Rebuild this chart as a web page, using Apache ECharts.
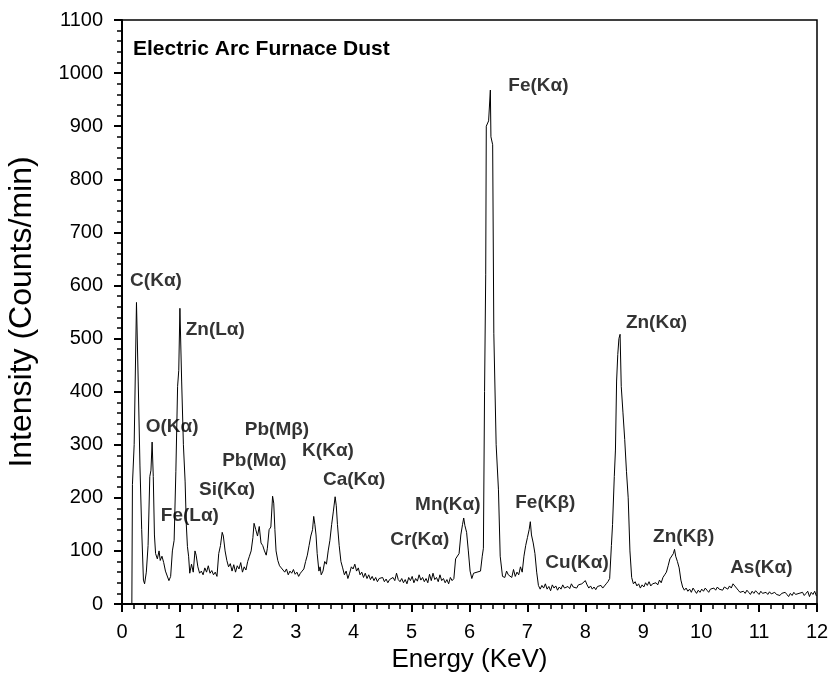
<!DOCTYPE html>
<html>
<head>
<meta charset="utf-8">
<script src="https://cdn.jsdelivr.net/npm/echarts@6/dist/echarts.min.js"></script>
<style>
  html, body { margin: 0; padding: 0; background: #fff; }
  #edschart { width: 830px; height: 694px; }
</style>
</head>
<body>
<div id="edschart"></div>
<script>
// EDS spectrum, [energy keV, counts/min]
var lowSpectrum = [
  [0,0],[0.17,0],[0.18,225],[0.21,300],[0.25,568],[0.28,420],[0.31,260],[0.34,140],[0.37,45],[0.39,38],
  [0.42,60],[0.45,110],[0.48,240],[0.50,252],[0.52,305],[0.54,240],[0.56,130],[0.58,95],[0.61,85],[0.64,100],
  [0.66,82],[0.69,90],[0.72,78],[0.75,62],[0.78,60],[0.81,44],[0.84,52],[0.87,100],[0.90,120],[0.93,250],
  [0.96,410],[0.98,440],[1.00,557],[1.03,420],[1.06,300],[1.09,230],[1.11,150],[1.13,108],[1.15,90],[1.17,58],
  [1.20,75],[1.23,60],[1.26,100],[1.28,92],[1.31,70],[1.34,58],[1.37,62],[1.40,55],[1.43,68],[1.46,60],
  [1.49,72],[1.52,58],[1.55,63],[1.58,55],[1.61,60],[1.64,52],[1.67,95],[1.70,110],[1.73,135],[1.75,128],
  [1.78,100],[1.81,82],[1.84,70],[1.87,76],[1.90,62],[1.93,74],[1.96,60],[1.99,72]
];
var midSpectrum = [
  [2.02,66],[2.05,78],[2.08,60],[2.11,70],[2.14,64],[2.17,80],[2.20,90],[2.23,100],[2.26,125],[2.28,152],
  [2.31,140],[2.34,128],[2.37,146],[2.40,115],[2.43,110],[2.46,100],[2.49,92],[2.51,105],[2.54,140],[2.57,145],
  [2.60,203],[2.62,190],[2.64,140],[2.66,100],[2.69,82],[2.72,72],[2.75,68],[2.78,64],[2.81,60],[2.84,66],
  [2.87,55],[2.90,62],[2.93,58],[2.96,65],[2.99,56],[3.02,60],[3.05,52],[3.08,58],[3.11,62],[3.14,66],
  [3.17,80],[3.20,92],[3.23,110],[3.26,128],[3.29,140],[3.31,165],[3.33,150],[3.35,130],[3.37,95],[3.40,62],
  [3.42,70],[3.44,55],[3.47,62],[3.50,80],[3.53,75],[3.56,100],[3.59,120],[3.62,150],[3.65,175],[3.68,202],
  [3.70,185],[3.72,150],[3.75,110],[3.78,80],[3.81,68],[3.84,55],[3.87,62],[3.90,48],[3.93,58],[3.96,70],
  [3.99,66],[4.02,75],[4.05,62],[4.08,68],[4.11,55],[4.14,60],[4.17,50],[4.20,58],[4.23,48],[4.26,55],
  [4.29,46],[4.32,52],[4.35,44],[4.38,50],[4.41,42],[4.44,48],[4.47,45],[4.50,50],[4.53,42],[4.56,47],
  [4.59,40],[4.62,46],[4.65,43],[4.68,50],[4.71,44],[4.74,58],[4.77,46],[4.80,42],[4.83,48],[4.86,40],
  [4.89,46],[4.92,38],[4.95,50],[4.98,44],[5.01,52],[5.04,40],[5.07,48],[5.10,43],[5.13,55],[5.16,45],
  [5.19,50],[5.22,42],[5.25,48],[5.28,40],[5.31,56],[5.34,44],[5.37,58],[5.40,46],[5.43,50],[5.46,42],
  [5.49,55],[5.52,44],[5.55,48],[5.58,40],[5.61,46],[5.64,38],[5.67,50],[5.70,44],[5.73,48],[5.76,85],
  [5.79,88],[5.82,95],[5.85,130],[5.88,150],[5.90,162],[5.92,148],[5.95,135],[5.98,100],[6.01,62],[6.04,48],
  [6.07,58],[6.10,55],[6.13,60],[6.16,58],[6.19,62],[6.22,90],[6.24,105],[6.26,400],[6.28,620],[6.29,900],
  [6.33,910],[6.36,968],[6.37,880],[6.40,865],[6.42,510],[6.46,300],[6.50,215],[6.53,90],[6.57,52],
  [6.61,50],[6.64,62],[6.67,55],[6.70,58],[6.73,50],[6.76,65],[6.79,52],[6.82,60],[6.85,55],
  [6.88,70],[6.91,60],[6.94,90],[6.97,110],[7.00,125],[7.03,140],[7.05,155],[7.07,130],[7.10,115],[7.13,95],
  [7.16,60],[7.19,35],[7.22,28],[7.25,35],[7.28,30],[7.31,38],[7.34,28],[7.37,33],[7.40,25],[7.43,36],
  [7.46,30],[7.49,34],[7.52,26],[7.55,32],[7.58,28],[7.61,36],[7.64,30],[7.67,27],[7.70,33],[7.73,29],
  [7.76,38],[7.79,32],[7.82,35],[7.85,30],[7.88,36],[7.91,33],[7.94,38],[7.97,35]
];
var highSpectrum = [
  [8.00,44],[8.03,36],[8.06,30],[8.09,34],[8.12,28],[8.15,32],[8.18,27],[8.21,33],[8.24,30],[8.27,35],
  [8.30,30],[8.33,34],[8.36,38],[8.39,42],[8.42,48],[8.45,110],[8.47,150],[8.50,240],[8.52,290],[8.54,420],
  [8.56,470],[8.58,500],[8.60,508],[8.62,410],[8.65,360],[8.68,310],[8.71,250],[8.74,200],[8.77,100],[8.80,50],
  [8.83,38],[8.86,42],[8.89,34],[8.92,38],[8.95,30],[8.98,36],[9.01,32],[9.04,40],[9.07,35],[9.10,42],
  [9.13,34],[9.16,38],[9.19,35],[9.22,40],[9.25,36],[9.28,45],[9.31,40],[9.34,50],[9.37,55],[9.40,60],
  [9.43,72],[9.46,85],[9.49,88],[9.52,95],[9.54,103],[9.56,90],[9.59,80],[9.62,68],[9.65,45],[9.68,32],
  [9.71,26],[9.74,30],[9.77,24],[9.80,28],[9.83,22],[9.86,30],[9.89,25],[9.92,20],[9.95,26],[9.98,22],
  [10.01,28],[10.04,24],[10.07,30],[10.10,26],[10.13,22],[10.16,28],[10.19,25],[10.22,30],[10.25,26],[10.28,32],
  [10.31,28],[10.34,30],[10.37,26],[10.40,32],[10.43,30],[10.46,28],[10.49,34],[10.52,30],[10.55,38],[10.58,34],
  [10.61,30],[10.64,26],[10.67,22],[10.70,20],[10.73,24],[10.76,20],[10.79,26],[10.82,22],[10.85,18],[10.88,24],
  [10.91,20],[10.94,25],[10.97,22],[11.00,18],[11.03,24],[11.06,20],[11.09,17],[11.12,22],[11.15,18],[11.18,23],
  [11.21,19],[11.24,16],[11.27,22],[11.30,18],[11.33,21],[11.36,16],[11.39,20],[11.42,17],[11.45,22],[11.48,18],
  [11.51,14],[11.54,20],[11.57,16],[11.60,22],[11.63,18],[11.66,15],[11.69,20],[11.72,17],[11.75,22],[11.78,16],
  [11.81,20],[11.84,24],[11.87,14],[11.90,22],[11.93,18],[11.96,24],[11.99,15]
];
var spectrum = lowSpectrum.concat(midSpectrum, highSpectrum);

// peak names and where their text sits (left edge energy, middle height)
var peakNames = ['C(Kα)','O(Kα)','Fe(Lα)','Zn(Lα)','Si(Kα)','Pb(Mα)','Pb(Mβ)','K(Kα)','Ca(Kα)',
  'Cr(Kα)','Mn(Kα)','Fe(Kα)','Fe(Kβ)','Cu(Kα)','Zn(Kα)','Zn(Kβ)','As(Kα)'];
var peakLabelE = [0.14,0.41,0.67,1.10,1.33,1.73,2.12,3.11,3.47,4.63,5.06,6.67,6.79,7.31,8.70,9.17,10.50];
var peakLabelI = [608,333,166,516,215,269,328,288,234,121,186,977,190,77,529,126,68];

var labelData = [];
for (var i = 0; i < peakNames.length; i++) {
    labelData.push({name: peakNames[i], value: [peakLabelE[i], peakLabelI[i]]});
}

var edschart = echarts.init(document.getElementById('edschart'));
var axisFont = {color: '#000', fontFamily: 'Liberation Sans', fontSize: 20,
    formatter: function (v) { return String(v); }};

option = {
    animation: false,
    backgroundColor: '#fff',
    title: {
        text: 'Electric Arc Furnace Dust',
        left: 128,
        top: 34,
        textStyle: {fontFamily: 'Liberation Sans', fontWeight: 'bold', fontSize: 21, color: '#000'}
    },
    grid: {
        left: 122, right: 13, top: 20, bottom: 90,
        outerBoundsMode: 'none',
        show: true, borderColor: '#000', borderWidth: 1.5
    },
    xAxis: {
        type: 'value',
        min: 0, max: 12, interval: 1,
        name: 'Energy (KeV)',
        nameLocation: 'middle',
        nameGap: 41,
        nameTextStyle: {color: '#000', fontFamily: 'Liberation Sans', fontSize: 26},
        axisLine: {lineStyle: {color: '#000', width: 2}},
        axisTick: {inside: false, length: 8, lineStyle: {color: '#000', width: 2}},
        minorTick: {show: true, splitNumber: 5, length: 5, lineStyle: {color: '#000', width: 1.5}},
        splitLine: {show: false},
        axisLabel: Object.assign({margin: 18}, axisFont)
    },
    yAxis: {
        type: 'value',
        min: 0, max: 1100, interval: 100,
        name: 'Intensity (Counts/min)',
        nameLocation: 'middle',
        nameGap: 84,
        nameTextStyle: {color: '#000', fontFamily: 'Liberation Sans', fontSize: 32},
        axisLine: {lineStyle: {color: '#000', width: 2}},
        axisTick: {inside: false, length: 8, lineStyle: {color: '#000', width: 2}},
        minorTick: {show: true, splitNumber: 5, length: 5, lineStyle: {color: '#000', width: 1.5}},
        splitLine: {show: false},
        axisLabel: Object.assign({margin: 19}, axisFont)
    },
    series: [{
        type: 'line',
        data: spectrum,
        showSymbol: false,
        lineStyle: {color: '#000', width: 1},
        z: 3
    }, {
        type: 'scatter',
        data: labelData,
        symbolSize: 0,
        silent: true,
        label: {
            show: true,
            position: 'right',
            distance: 0,
            formatter: function (p) { return p.name; },
            fontFamily: 'Liberation Sans',
            fontWeight: 'bold',
            fontSize: 19,
            color: '#000',
            textBorderWidth: 0
        }
    }]
};
edschart.setOption(option);
</script>
</body>
</html>
